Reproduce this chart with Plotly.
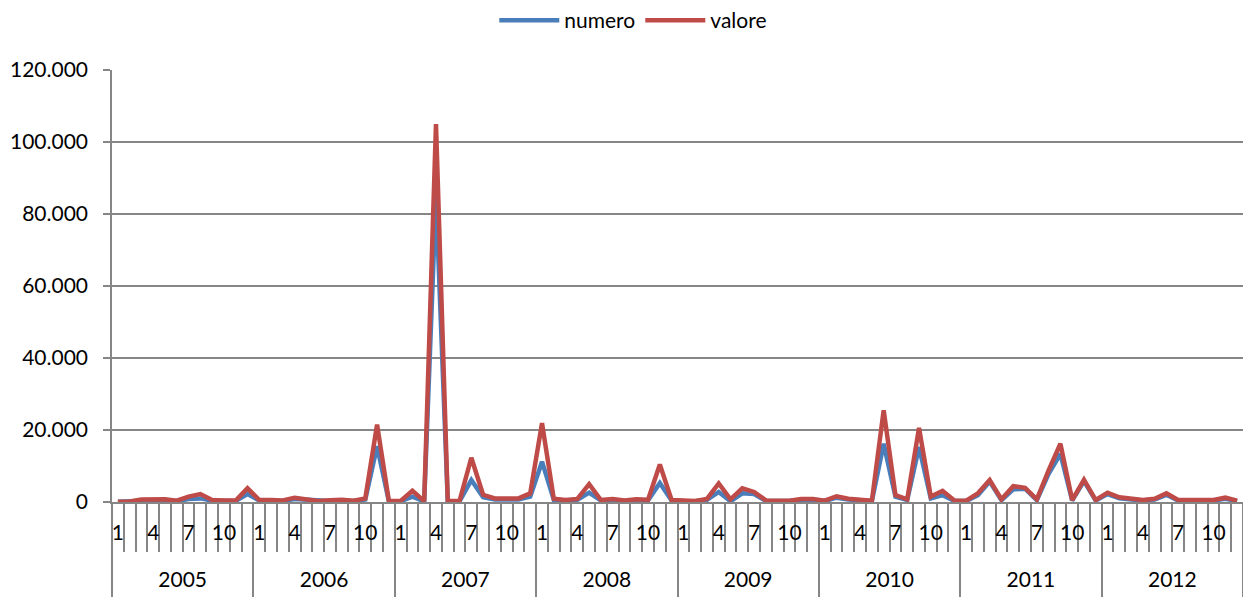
import plotly.graph_objects as go

# Monthly series, January 2005 - December 2012
years = ["2005", "2006", "2007", "2008", "2009", "2010", "2011", "2012"]
month_labels = ["1", "", "", "4", "", "", "7", "", "", "10", "", ""]

valore = [
    100, 150, 700, 650, 750, 350, 1500, 2200, 550, 400, 400, 3800,          # 2005
    550, 550, 450, 1200, 830, 280, 460, 650, 370, 1010, 21500, 300,         # 2006
    300, 3100, 250, 105000, 300, 300, 12300, 2000, 1000, 1000, 1000, 2400,  # 2007
    21900, 900, 550, 850, 4950, 550, 850, 450, 750, 650, 10400, 550,        # 2008
    350, 280, 850, 5150, 750, 3800, 2800, 450, 350, 350, 830, 830,          # 2009
    370, 1600, 900, 550, 370, 25500, 1900, 750, 20600, 1500, 3100, 450,     # 2010
    370, 2400, 6100, 740, 4400, 3950, 740, 8800, 16200, 550, 6200, 550,     # 2011
    2600, 1300, 1000, 550, 900, 2400, 550, 550, 550, 550, 1200, 370,        # 2012
]

numero = [
    80, 100, 400, 400, 500, 250, 800, 1000, 400, 300, 300, 2200,            # 2005
    400, 400, 300, 800, 600, 200, 300, 450, 250, 700, 15500, 200,           # 2006
    200, 1500, 150, 85000, 200, 200, 6100, 1300, 700, 700, 700, 1500,       # 2007
    11200, 600, 400, 600, 2600, 400, 600, 300, 500, 450, 5300, 400,         # 2008
    250, 200, 600, 2800, 200, 2400, 2200, 300, 250, 250, 600, 600,          # 2009
    250, 1200, 700, 400, 250, 16200, 1500, 550, 15300, 1000, 1900, 300,     # 2010
    250, 1900, 5700, 500, 3500, 3700, 500, 7800, 13400, 400, 5800, 400,     # 2011
    2200, 1000, 800, 400, 700, 2000, 400, 400, 400, 400, 900, 250,          # 2012
]

n = len(valore)
idx = list(range(n))

GRID = "#868686"
FONT = "Lato"

fig = go.Figure()
fig.add_trace(go.Scatter(x=idx, y=numero, name="numero", mode="lines",
                         line=dict(color="#4A7EBB", width=4.5)))
fig.add_trace(go.Scatter(x=idx, y=valore, name="valore", mode="lines",
                         line=dict(color="#BE4B48", width=4.5)))

# invisible trace to bring up the second (year) axis
fig.add_trace(go.Scatter(x=[0], y=[None], xaxis="x2", showlegend=False,
                         hoverinfo="skip"))

month_pos = [i for i in idx if month_labels[i % 12]]
month_text = [month_labels[i % 12] for i in month_pos]
month_bounds = [i - 0.5 for i in range(n + 1)]
year_pos = [12 * j + 5.5 for j in range(len(years))]
year_bounds = [12 * j - 0.5 for j in range(len(years) + 1)]

xr = [-0.5, n - 0.5]

fig.update_layout(
    width=1243, height=597,
    margin=dict(l=112, r=0, t=68, b=95),
    paper_bgcolor="white", plot_bgcolor="white",
    separators=",.",
    font=dict(family=FONT, size=21, color="black"),
    showlegend=True,
    legend=dict(orientation="h", x=0.338, xanchor="left", y=1.115,
                yanchor="middle", font=dict(size=21), itemwidth=60,
                bgcolor="rgba(0,0,0,0)"),
    xaxis=dict(
        range=xr, showgrid=False, zeroline=False,
        showline=True, linecolor=GRID, linewidth=1.5,
        tickmode="array", tickvals=month_pos, ticktext=month_text,
        ticks="", ticklabelstandoff=11,
        minor=dict(tickmode="array", tickvals=month_bounds, ticks="outside",
                   ticklen=48, tickcolor=GRID, tickwidth=1.5),
    ),
    xaxis2=dict(
        range=xr, overlaying="x", anchor="y", side="bottom",
        showgrid=False, zeroline=False, showline=False,
        tickmode="array", tickvals=year_pos, ticktext=years,
        ticks="", ticklabelstandoff=63,
        minor=dict(tickmode="array", tickvals=year_bounds, ticks="outside",
                   ticklen=95, tickcolor=GRID, tickwidth=1.5),
    ),
    yaxis=dict(
        range=[0, 120000], tickmode="linear", tick0=0, dtick=20000,
        tickformat=",d", showgrid=True, gridcolor=GRID, gridwidth=1.5,
        zeroline=False, showline=True, linecolor=GRID, linewidth=1.5,
        ticks="outside", ticklen=7, tickcolor=GRID, tickwidth=1.5,
        ticklabelstandoff=11,
    ),
)

fig.write_html("out.html")
